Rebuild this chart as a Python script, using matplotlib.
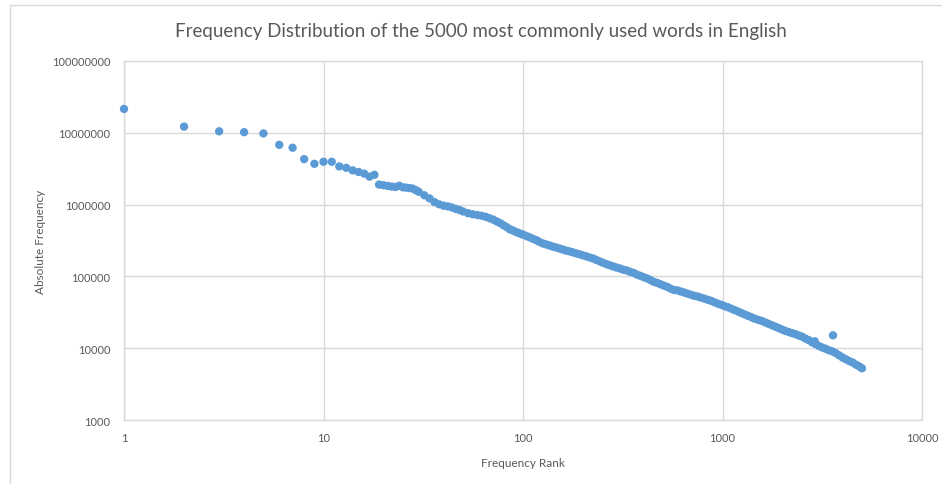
import matplotlib
matplotlib.use("Agg")
from matplotlib import pyplot as plt
from matplotlib.patches import Rectangle
from matplotlib.ticker import FixedLocator, FuncFormatter, NullLocator

plt.rcParams['font.family'] = ['Lato', 'DejaVu Sans']

# rank of each word and how often it occurs
ranks = [1, 2, 3, 4, 5, 6, 7, 8, 9, 10, 11, 12, 13, 14, 15, 16, 17, 18,
         19, 20, 21, 22, 23, 24, 25, 26, 27, 28, 29, 30, 32, 34, 36, 38, 40,
         42, 44, 46, 48, 50, 53, 56, 59, 62, 65, 68, 71, 74, 77, 80, 83, 86,
         89, 92, 95, 98, 101, 105, 109, 113, 117, 121, 126, 131, 136, 141,
         146, 152, 158, 164, 170, 177, 184, 191, 199, 207, 215, 224, 233,
         242, 252, 262, 272, 283, 294, 306, 318, 331, 344, 358, 372, 387,
         402, 418, 435, 452, 470, 489, 508, 528, 549, 571, 594, 617, 642,
         667, 694, 721, 750, 780, 811, 843, 876, 911, 947, 985, 1024, 1065,
         1107, 1151, 1197, 1244, 1294, 1345, 1398, 1454, 1512, 1572, 1634,
         1699, 1767, 1837, 1910, 1986, 2065, 2147, 2232, 2320, 2413, 2508,
         2608, 2712, 2819, 2900, 2931, 3047, 3168, 3294, 3424, 3560, 3580,
         3701, 3848, 4000, 4159, 4324, 4495, 4673, 4858, 5000]
freqs = [21500000, 12200000, 10500000, 10200000, 9800000, 6800000, 6200000,
         4300000, 3700000, 3950000, 3950000, 3400000, 3250000, 3000000,
         2850000, 2700000, 2450000, 2600000,
         1900000, 1860000, 1820000, 1780000, 1760000, 1830000, 1740000,
         1720000, 1700000, 1670000, 1590000, 1510000, 1350000, 1220000,
         1085000, 1010000, 966000, 944000, 912000, 871000, 841000, 804000,
         759000, 733000, 716000, 700000, 676000, 646000, 617000, 582000,
         550000, 513000, 484000, 452000, 437000, 417000, 403000, 389000,
         378000, 361000, 347000, 331000, 318000, 302000, 287000, 278000,
         269000, 260000, 254000, 245000, 237000, 229000, 224000, 217000,
         210000, 204000, 197000, 191000, 184000, 178000, 170000, 162000,
         155000, 148000, 143000, 138000, 133000, 129000, 124000, 121000,
         116000, 112000, 106000, 102000, 97700, 93800, 89100, 84100, 81300,
         77600, 74500, 71600, 67600, 64600, 63800, 61700, 59600, 57500,
         55600, 53700, 52500, 50700, 49000, 47300, 45700, 43600, 41700,
         40300, 38500, 37200, 35500, 33900, 32400, 30900, 29500, 28200,
         26900, 25700, 24800, 24000, 22900, 21900, 20900, 20000, 19100,
         18200, 17400, 16800, 16200, 15700, 15000, 14500, 13600, 12900,
         12000, 12500, 11400, 10700, 10200, 9800, 9330, 9020, 15100, 8510,
         7940, 7410, 7000, 6610, 6310, 5890, 5560, 5250]

x_ticks = [1, 10, 100, 1000, 10000]
y_ticks = [1000, 10000, 100000, 1000000, 10000000, 100000000]

text_grey = '#595959'
grid_grey = '#D9D9D9'
dot_blue = '#5B9BD5'

fig = plt.figure(figsize=(9.42, 4.85), dpi=100)
ax = fig.add_axes([124 / 942, 1 - 421 / 485, 798 / 942, 359 / 485])

# outer chart frame
fig.patches.append(Rectangle((10 / 942, -0.1), 1.2, 1 - 6 / 485 + 0.1,
                             transform=fig.transFigure, fill=False,
                             edgecolor=grid_grey, linewidth=1))

ax.scatter(ranks, freqs, s=36, color=dot_blue, edgecolors='none',
           clip_on=False, zorder=3)

ax.set_xscale('log')
ax.set_yscale('log')
ax.set_xlim(1, 10000)
ax.set_ylim(1000, 100000000)

ax.xaxis.set_major_locator(FixedLocator(x_ticks))
ax.yaxis.set_major_locator(FixedLocator(y_ticks))
ax.xaxis.set_minor_locator(NullLocator())
ax.yaxis.set_minor_locator(NullLocator())
ax.xaxis.set_major_formatter(FuncFormatter(lambda v, p: f"{int(round(v))}"))
ax.yaxis.set_major_formatter(FuncFormatter(lambda v, p: f"{int(round(v))}"))
ax.tick_params(axis='both', length=0, labelsize=8, colors=text_grey)
ax.tick_params(axis='x', pad=9)
ax.tick_params(axis='y', pad=10)

ax.grid(True, color=grid_grey, linewidth=1)
ax.set_axisbelow(True)
for s in ax.spines.values():
    s.set_color(grid_grey)
    s.set_linewidth(1)

fig.text(481 / 942, 1 - 32 / 485,
         'Frequency Distribution of the 5000 most commonly used words in English',
         fontsize=13.5, color=text_grey, ha='center', va='center')
ax.set_xlabel('Frequency Rank', fontsize=8.5, color=text_grey, labelpad=10)
ax.set_ylabel('Absolute Frequency', fontsize=8.5, color=text_grey, labelpad=4)

fig.savefig('out.png', dpi=100)
plt.close()
